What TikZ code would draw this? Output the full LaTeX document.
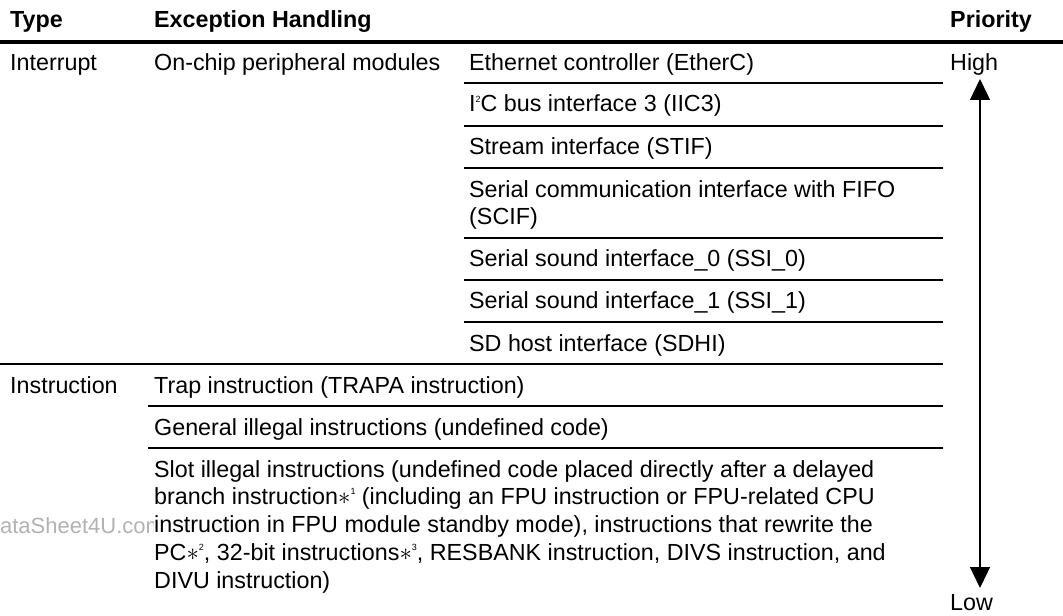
\documentclass[tikz,border=0pt]{standalone}
\usepackage{fontspec}
\setmainfont{Liberation Sans}
\usepackage{tikz}
\usetikzlibrary{arrows.meta}
\tikzset{
  cell/.style={anchor=base west, inner sep=0pt, align=left, font=\fontsize{23.3bp}{27.75bp}\selectfont},
  headcell/.style={cell, font=\fontsize{23.3bp}{27.75bp}\selectfont\bfseries},
  markcell/.style={cell, text=black!30, font=\fontsize{22bp}{22bp}\selectfont},
  rulethin/.style={line width=2bp},
  rulethick/.style={line width=3.5bp},
  prioarrow/.style={line width=1.3bp, {Triangle[width=20bp,length=21bp]}-{Triangle[width=20bp,length=21bp]}}
}
\newcommand{\tablecell}[3] {\node at (#1) (#2) [cell] {#3};}
\newcommand{\tablehead}[3] {\node at (#1) (#2) [headcell] {#3};}
\newcommand{\tablerule}[2] {\draw [rulethin] (#1) -- (#2);}
\newcommand{\supnum}[1] {\raisebox{0.42em}{\fontsize{9bp}{9bp}\selectfont #1}}
\begin{document}
\begin{tikzpicture}[x=1bp, y=-1bp]
\useasboundingbox (0,0) rectangle (1063,616);
\clip (0,0) rectangle (1063,616);

\node at (-16,533) (watermark) [markcell] {DataSheet4U.com};

\tablehead {10,28}{type}{Type}
\tablehead {154,28}{handling}{Exception Handling}
\tablehead {950,28}{priority}{Priority}
\draw [rulethick] (0,42) -- (1063,42);

\tablecell {10,71}{interrupt}{Interrupt}
\tablecell {154,71}{onchip}{On-chip peripheral modules}
\tablecell {469,71}{etherc}{Ethernet controller (EtherC)}
\tablecell {469,112}{iic}{I\supnum{2}C bus interface 3 (IIC3)}
\tablecell {469,155}{stif}{Stream interface (STIF)}
\tablecell {469,225}{scif}{Serial communication interface with FIFO\\(SCIF)}
\tablecell {469,267}{ssizero}{Serial sound interface\_0 (SSI\_0)}
\tablecell {469,309}{ssione}{Serial sound interface\_1 (SSI\_1)}
\tablecell {469,351}{sdhi}{SD host interface (SDHI)}

\tablerule {464,83}{943,83}
\tablerule {464,126}{943,126}
\tablerule {464,168}{943,168}
\tablerule {464,238}{943,238}
\tablerule {464,280}{943,280}
\tablerule {464,322}{943,322}
\tablerule {0,364}{943,364}

\tablecell {10,393}{instruction}{Instruction}
\tablecell {154,393}{trapa}{Trap instruction (TRAPA instruction)}
\tablecell {154,435}{general}{General illegal instructions (undefined code)}
\node at (154,588) (slot) [cell, fill=white] {Slot illegal instructions (undefined code placed directly after a delayed\\branch instruction$\ast$\supnum{1} (including an FPU instruction or FPU-related CPU\\instruction in FPU module standby mode), instructions that rewrite the\\PC$\ast$\supnum{2}, 32-bit instructions$\ast$\supnum{3}, RESBANK instruction, DIVS instruction, and\\DIVU instruction)};

\tablerule {148,406}{943,406}
\tablerule {148,448}{943,448}

\tablecell {950,71}{high}{High}
\tablecell {950,610}{low}{Low}
\coordinate (hightip) at (980,79);
\coordinate (lowtip) at (980,588);
\draw [prioarrow] (hightip) -- (lowtip);
\end{tikzpicture}
\end{document}
